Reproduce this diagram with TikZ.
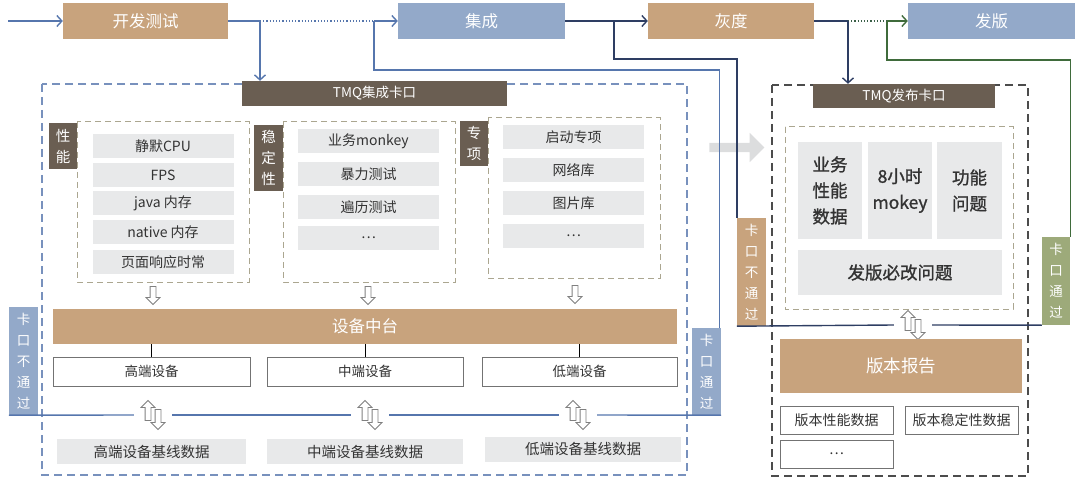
\documentclass[tikz,border=0pt]{standalone}
\usepackage{fontspec}
\setmainfont{Noto Sans CJK SC}
\newfontfamily\medio[FakeBold=1.2]{Noto Sans CJK SC}
\usetikzlibrary{arrows.meta, positioning, shapes.arrows, calc}
\definecolor{arenaTostado}{HTML}{C8A37D}
\definecolor{azulPizarra}{HTML}{93A9C9}
\definecolor{taupeOscuro}{HTML}{6A5E52}
\definecolor{grisClaro}{HTML}{E8E9EA}
\definecolor{verdeSalvia}{HTML}{9DAA7A}
\definecolor{azulLinea}{HTML}{5676AD}
\definecolor{azulMarino}{HTML}{2E3E63}
\definecolor{verdeBosque}{HTML}{3F6B3B}
\definecolor{olivaGris}{HTML}{ABA690}
\colorlet{colTan}{arenaTostado}
\colorlet{colAzul}{azulPizarra}
\colorlet{colTaupe}{taupeOscuro}
\colorlet{colItem}{grisClaro}
\colorlet{colVerde}{verdeSalvia}
\colorlet{colTexto}{black!80}
\tikzset{
  boxBase/.style={inner sep=0pt, align=center, text=white},
  boxTop/.style={boxBase, minimum height=36pt, font=\fontsize{16.5}{18}\selectfont},
  boxTopTan/.style={boxTop, fill=colTan},
  boxTopBlue/.style={boxTop, fill=colAzul},
  boxTMQ/.style={boxBase, fill=colTaupe, minimum height=25pt,
    font=\fontsize{13.5}{15}\selectfont},
  boxTag/.style={boxBase, fill=colTaupe, minimum width=28pt,
    font=\fontsize{14.5}{21}\selectfont},
  boxGate/.style={boxBase, minimum width=28pt, font=\fontsize{13.5}{21}\selectfont},
  boxItem/.style={boxBase, fill=colItem, text=colTexto, minimum width=141pt,
    minimum height=24pt, font=\fontsize{14}{16}\selectfont},
  boxDevice/.style={boxBase, fill=white, draw=black!55, line width=0.8pt,
    text=colTexto, minimum height=29pt, font=\fontsize{13.5}{15}\selectfont},
  boxBaseline/.style={boxBase, fill=colItem, text=colTexto, minimum height=25pt,
    font=\fontsize{14.5}{16}\selectfont},
  boxBig/.style={boxBase, fill=colItem, text=colTexto,
    font=\medio\fontsize{17.5}{26}\selectfont},
  boxReport/.style={boxBase, fill=white, draw=black!55, line width=0.8pt,
    text=colTexto, minimum width=113pt, minimum height=28pt,
    font=\fontsize{14}{16}\selectfont},
  groupDash/.style={draw=olivaGris, line width=1pt, dash pattern=on 6pt off 4pt},
  panelDash/.style={line width=1.1pt, dash pattern=on 8pt off 5pt},
  hollowArrow/.style={single arrow, draw=black!50, fill=white, line width=0.8pt,
    inner sep=2.5pt, minimum height=18pt, single arrow head extend=4pt},
  gapNode/.style={inner sep=0pt, minimum width=38pt, minimum height=24pt},
  updown/.pic={
    \node[hollowArrow, shape border rotate=90, minimum height=20pt] at (-5,-3) {};
    \node[hollowArrow, shape border rotate=270, minimum height=20pt] at (5,3) {};
  },
  lineaAzul/.style={azulLinea, line width=1.4pt},
  lineaMarino/.style={azulMarino, line width=1.4pt},
  lineaVerde/.style={verdeBosque, line width=1.4pt},
  flechaAzul/.style={lineaAzul, -{Straight Barb[length=5pt, width=11pt]}},
  flechaMarino/.style={lineaMarino, -{Straight Barb[length=5pt, width=11pt]}},
  flechaVerde/.style={lineaVerde, -{Straight Barb[length=5pt, width=11pt]}},
  puntos/.style={line width=1.2pt, dotted},
}

\begin{document}
\begin{tikzpicture}[x=1pt, y=-1pt]
    \useasboundingbox (0,0) rectangle (1080,492);
    % top row
    \node[boxTopTan, minimum width=165pt] (kaifa) at (145.5,21) {开发测试};
    \node[boxTopBlue, minimum width=167pt] (jicheng) at (481.5,21) {集成};
    \node[boxTopTan, minimum width=166pt] (huidu) at (731,21) {灰度};
    \node[boxTopBlue, minimum width=167pt] (faban) at (991.5,21) {发版};
    \coordinate (inicio) at (8,21);
    \coordinate (j1) at (260,21);
    \coordinate (r1) at (374,21);
    \coordinate (rA) at (374,70);
    \coordinate (n1) at (614,21);
    \coordinate (nA) at (614,59);
    \coordinate (n2) at (848,21);
    \coordinate (g1) at (887,21);
    \coordinate (gA) at (887,60);

    % integration panel
    \draw[panelDash, azulLinea!80] (42,84) rectangle (687,475);
    \node[boxTMQ, minimum width=265pt] (tmqA) at (374.5,93.5) {TMQ集成卡口};

    \draw[groupDash] (77,122) rectangle (249,282);
    \node[boxTag, minimum height=46pt] (tagPerf) at (63,146) {性\\能};
    \foreach \y/\t [count=\i] in {146/静默CPU, 175/FPS, 203/java 内存,
                                  232/native 内存, 262/页面响应时常}
      \node[boxItem] (perf\i) at (163,\y) {\t};

    \draw[groupDash] (283,122) rectangle (455,282);
    \node[boxTag, minimum width=29pt, minimum height=66pt] (tagStab) at (268.5,158) {稳\\定\\性};
    \foreach \y/\t [count=\i] in {141/业务monkey, 174/暴力测试, 207/遍历测试, 238/\dots}
      \node[boxItem] (stab\i) at (368.5,\y) {\t};

    \draw[groupDash] (488,118) rectangle (660,278);
    \node[boxTag, minimum height=45pt] (tagSpec) at (474,143.5) {专\\项};
    \foreach \y/\t [count=\i] in {137/启动专项, 170.5/网络库, 203.5/图片库, 236/\dots}
      \node[boxItem] (spec\i) at (573.5,\y) {\t};

    \node[hollowArrow, shape border rotate=270] (down1) at (153,294) {};
    \node[hollowArrow, shape border rotate=270] (down2) at (368,294) {};
    \node[hollowArrow, shape border rotate=270] (down3) at (575,293) {};

    \node[boxBase, fill=colTan, minimum width=624pt, minimum height=35pt,
          font=\fontsize{16.5}{18}\selectfont] (zhongtai) at (365,326.5) {设备中台};
    \node[boxDevice, minimum width=197pt] (devHi) at (151.5,371.5) {高端设备};
    \node[boxDevice, minimum width=196pt] (devMid) at (365,371.5) {中端设备};
    \node[boxDevice, minimum width=195pt] (devLo) at (579.5,371.5) {低端设备};
    \foreach \d in {devHi, devMid, devLo}
      \draw[black, line width=1pt] (\d.north) -- (\d.north |- zhongtai.south);

    \node[gapNode] (da1) at (153,415) {};
    \node[gapNode] (da2) at (370,415) {};
    \node[gapNode] (da3) at (578,415) {};
    \pic at (da1) {updown};
    \pic at (da2) {updown};
    \pic at (da3) {updown};

    \node[boxBaseline, minimum width=189pt] (baseHi) at (151.5,451.5) {高端设备基线数据};
    \node[boxBaseline, minimum width=196pt] (baseMid) at (365,451.5) {中端设备基线数据};
    \node[boxBaseline, minimum width=196pt] (baseLo) at (583,449) {低端设备基线数据};

    \node[boxGate, fill=colAzul, minimum width=29pt, minimum height=108pt] (nopassL) at (23.5,361) {卡\\口\\不\\通\\过};
    \node[boxGate, fill=colAzul, minimum width=29pt, minimum height=87pt] (passL) at (706.5,371.5) {卡\\口\\通\\过};

    % hand-over arrow
    \node[single arrow, fill=black!5!grisClaro, inner sep=4.5pt, minimum height=55pt,
          single arrow head extend=10pt] (paso) at (734.5,147.5) {};

    % release panel
    \draw[panelDash, black!70] (772,85) rectangle (1028,476);
    \node[boxTMQ, minimum width=182pt, minimum height=24pt] (tmqB) at (904,96) {TMQ发布卡口};
    \draw[groupDash] (785,127) rectangle (1013,309);
    \node[boxBig, minimum width=64pt, minimum height=97pt] (bizData) at (830,190.5) {业务\\性能\\数据};
    \node[boxBig, minimum width=64pt, minimum height=97pt] (monkey8) at (900,190.5) {8小时\\mokey};
    \node[boxBig, minimum width=65pt, minimum height=97pt] (funcIssue) at (969.5,190.5) {功能\\问题};
    \node[boxBig, minimum width=204pt, minimum height=45pt] (mustFix) at (900,272.5) {发版必改问题};

    \node[gapNode] (da4) at (913,325) {};
    \pic at (da4) {updown};

    \node[boxBase, fill=colTan, minimum width=242pt, minimum height=54pt,
          font=\fontsize{17.5}{19}\selectfont] (report) at (901,366) {版本报告};
    \node[boxReport] (repPerf) at (836.5,420) {版本性能数据};
    \node[boxReport] (repStab) at (961.5,420) {版本稳定性数据};
    \node[boxReport] (repMore) at (836.5,454) {\dots};

    \node[boxGate, fill=colTan, minimum width=29pt, minimum height=108pt] (nopassR) at (751.5,272) {卡\\口\\不\\通\\过};
    \node[boxGate, fill=colVerde, minimum height=88pt] (passR) at (1056,281) {卡\\口\\通\\过};

    % flow connectors
    \draw[flechaAzul] (inicio) -- (kaifa.west);
    \draw[lineaAzul] (kaifa.east) -- (j1);
    \draw[puntos, azulLinea] (j1) -- (r1);
    \draw[flechaAzul] (r1) -- (jicheng.west);
    \draw[flechaAzul] (j1) -- (tmqA.north -| j1);
    \draw[flechaMarino] (jicheng.east) -- (huidu.west);
    \draw[lineaMarino] (huidu.east) -- (n2);
    \draw[puntos, verdeBosque!70!azulMarino] (n2) -- (g1);
    \draw[flechaVerde] (g1) -- (faban.west);
    \draw[flechaMarino] (n2) -- (tmqB.north -| n2);

    % gate returns
    \draw[lineaAzul] (nopassL.south west) -- (da1.west);
    \draw[lineaAzul] (da1.east) -- (da2.west);
    \draw[lineaAzul] (da2.east) -- (da3.west);
    \draw[lineaAzul] (da3.east) -- (passL.south east);
    \draw[lineaAzul] ([xshift=-1.5pt]passL.north east) |- (rA) -- (r1);
    \draw[lineaMarino] (nopassR.south west) -- (da4.west);
    \draw[lineaMarino] (da4.east) -- (passR.south west);
    \draw[lineaMarino] (nopassR.north west) |- (nA) -- (n1);
    \draw[lineaVerde] (passR.north east) |- (gA) -- (g1);
  \end{tikzpicture}
\end{document}
